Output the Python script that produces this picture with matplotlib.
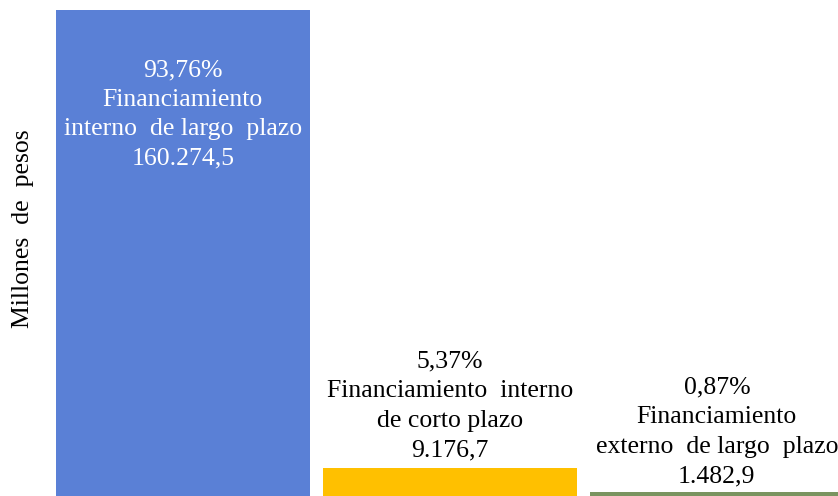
import matplotlib
matplotlib.use("Agg")
import matplotlib.pyplot as plt

categories = ["Financiamiento\ninterno  de largo  plazo",
              "Financiamiento  interno\nde corto plazo",
              "Financiamiento\nexterno  de largo  plazo"]
values = [160274.5, 9176.7, 1482.9]
percents = ["93,76%", "5,37%", "0,87%"]
value_labels = ["160.274,5", "9.176,7", "1.482,9"]
colors = ["#5A80D6", "#FFC000", "#7A9460"]

plt.rcParams['font.family'] = ['Liberation Serif', 'DejaVu Serif']

W, H = 838, 496
fig = plt.figure(figsize=(W / 100, H / 100), dpi=100)
ax = fig.add_axes([56 / W, 0, 1 - 56 / W, 1])

x = list(range(len(values)))
ax.bar(x, values, width=0.95, color=colors)
ax.set_xlim(-0.475, -0.475 + (W - 56) / 267)
ax.set_ylim(0, values[0] * H / 486)
ax.axis('off')

FS = 18.5
LS = 1.45
for i, (v, p, c, vl) in enumerate(zip(values, percents, categories, value_labels)):
    txt = f"{p}\n{c}\n{vl}"
    if i == 0:
        ax.annotate(txt, (i, v), xytext=(0, -49 * 0.72), textcoords='offset points',
                    ha='center', va='top', ma='center', fontsize=FS, color='white',
                    linespacing=LS)
    else:
        off = 7 if i == 1 else 4
        ax.annotate(txt, (i, v), xytext=(0, off * 0.72), textcoords='offset points',
                    ha='center', va='bottom', ma='center', fontsize=FS, color='black',
                    linespacing=LS)

fig.text(23 / W, 1 - 229 / H, "Millones  de  pesos", rotation=90, ha='center', va='center',
         fontsize=FS)

fig.savefig("out.png", dpi=100)
